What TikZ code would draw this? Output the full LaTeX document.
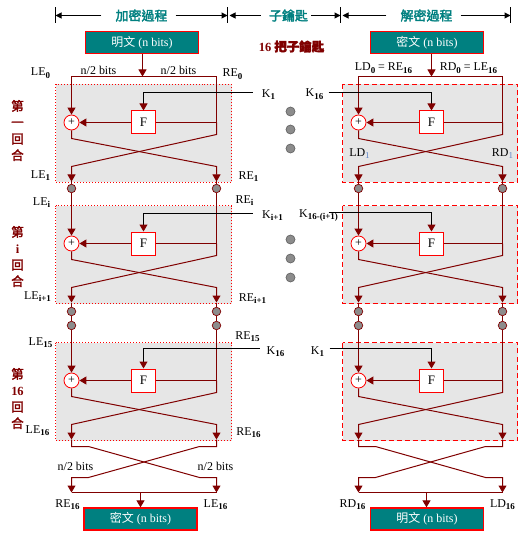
\documentclass[tikz,border=0pt]{standalone}
\usepackage{fontspec}
\setmainfont{Liberation Serif}
\newfontfamily\cjk{Noto Sans CJK TC}
\newfontfamily\cjkb{Noto Sans CJK TC}[FakeBold=2.5]
\usetikzlibrary{arrows.meta}
\definecolor{dred}{HTML}{800000}
\definecolor{tealc}{HTML}{008080}
\definecolor{boxgray}{HTML}{E6E6E6}
\definecolor{dotgray}{HTML}{8C8C8C}
\definecolor{subblue}{HTML}{5A82C8}
\newcommand\sbx[1]{\raisebox{-0.5ex}{\fontsize{9}{9}\selectfont\bfseries #1}}
\newcommand\sbb[1]{\raisebox{-0.5ex}{\fontsize{9}{9}\selectfont\color{subblue}#1}}
\tikzset{
  dl/.style={draw=dred, line width=1bp},
  arr/.style={dl, -{Triangle[width=8bp,length=7bp]}},
  karr/.style={draw=black, line width=1bp, -{Triangle[width=8bp,length=7bp,color=dred]}},
  fbox/.style={draw=red, fill=white, line width=1bp, minimum width=24bp, minimum height=23bp, inner sep=0pt, font=\fontsize{13}{13}\selectfont},
  xorn/.style={circle, draw=red, fill=white, line width=0.8bp, minimum size=15bp, inner sep=0pt, font=\fontsize{12}{12}\selectfont},
  dotn/.style={circle, draw=dred, fill=dotgray, line width=0.7bp, minimum size=8.5bp, inner sep=0pt},
  mdot/.style={circle, draw=black!60, fill=dotgray, line width=0.7bp, minimum size=9bp, inner sep=0pt},
  lab/.style={font=\fontsize{12}{12}\selectfont, inner sep=0pt},
  tealbox/.style={draw=red, fill=tealc, text=white, minimum width=113bp, minimum height=22bp, inner sep=0pt, line width=1.3bp, font=\fontsize{12}{12}\selectfont},
  hdr/.style={text=tealc, font=\cjkb\fontsize{13}{13}\selectfont, inner sep=0pt},
  rlab/.style={text=dred, font=\cjkb\fontsize{12.5}{16.5}\selectfont, align=center, inner sep=0pt},
  harr/.style={draw=black, line width=1bp, -{Triangle[width=6bp,length=6bp]}},
}
% #1 prefix, #2 xl, #3 xr, #4 xF, #5 top, #6 border style
\newcommand\feistel[6]{%
  \path[fill=boxgray, draw=red, line width=1bp, #6] ({#2-16},#5) rectangle ({#3+15},{#5+98});
  \node[xorn] (#1x) at (#2,{#5+38}) {+};
  \node[fbox] (#1F) at (#4,{#5+38}) {F};
  \coordinate (#1j) at (#3,{#5+38});
  \coordinate (#1bl) at (#2,{#5+97});
  \coordinate (#1br) at (#3,{#5+97});
  \draw[dl] (#1j) -- (#1F.east);
  \draw[arr] (#1F.west) -- (#1x.east);
  \draw[arr] (#1x.south) -- (#2,{#5+54}) -- (#3,{#5+82}) -- (#1br);
  \draw[arr] (#1j) -- (#3,{#5+50}) -- (#2,{#5+82}) -- (#1bl);
}
\begin{document}
\begin{tikzpicture}[x=1bp,y=-1bp]
\path[fill=white] (0,0) rectangle (528,533);
\useasboundingbox (0,0) rectangle (528,533);
\begin{scope}[shift={(0.5,0.5)}]
% header
\foreach \xx in {55,227,340,510} \draw[line width=1bp] (\xx,7) -- (\xx,23);
\coordinate (t1) at (55,15);
\coordinate (t2) at (227,15);
\coordinate (t3) at (340,15);
\coordinate (t4) at (510,15);
\node[hdr] (h1) at (141,15) {加密過程};
\node[hdr] (h2) at (288,15) {子鑰匙};
\node[hdr] (h3) at (426,15) {解密過程};
\draw[harr] ([xshift=-14bp]h1.west) -- (t1);
\draw[harr] ([xshift=8bp]h1.east) -- (t2);
\draw[harr] ([xshift=-8bp]h2.west) -- ([xshift=2bp]t2);
\draw[harr] ([xshift=3bp]h2.east) -- (t3);
\draw[harr] ([xshift=-14bp]h3.west) -- ([xshift=2bp]t3);
\draw[harr] ([xshift=8bp]h3.east) -- (t4);

% top boxes
\node[tealbox] (pt) at (141.5,42) {{\cjk 明文} (n bits)};
\node[tealbox] (ct) at (426.5,42) {{\cjk 密文} (n bits)};
\node[text=dred, font=\bfseries\fontsize{12.5}{12.5}\selectfont, inner sep=0pt] (sk) at (291,46) {16 {\cjkb 把子鑰匙}};

% rounds
\feistel{e1}{71}{216}{143}{84}{dotted}
\feistel{ei}{71}{216}{143}{205}{dotted}
\feistel{e16}{71}{216}{143}{342}{dotted}
\feistel{d1}{358}{502}{431}{84}{dash pattern=on 5bp off 3bp}
\feistel{di}{358}{502}{431}{205}{dash pattern=on 5bp off 3bp}
\feistel{d16}{358}{502}{431}{342}{dash pattern=on 5bp off 3bp}

% split lines
\coordinate (sL) at (142,76);
\coordinate (sLl) at (71,76);
\coordinate (sLr) at (216,76);
\coordinate (sR) at (431,76);
\coordinate (sRl) at (358,76);
\coordinate (sRr) at (502,76);
\draw[arr] (sL |- pt.south) -- (sL);
\draw[arr] (sR |- ct.south) -- (sR);
\draw[dl] (sLl) -- (sLr);
\draw[dl] (sRl) -- (sRr);
\draw[arr] (sLl) -- (e1x.north);
\draw[dl] (sLr) -- (e1j);
\draw[arr] (sRl) -- (d1x.north);
\draw[dl] (sRr) -- (d1j);

% dots between rounds
\foreach \nm/\xx in {eL/71, eR/216, dL/358, dR/502}{
  \node[dotn] (\nm a) at (\xx,188) {};
  \node[dotn] (\nm b) at (\xx,311) {};
  \node[dotn] (\nm c) at (\xx,325) {};
}
\draw[dl] (e1bl) -- (eLa.north);
\draw[arr] (eLa.south) -- (eix.north);
\draw[dl] (e1br) -- (eRa.north);
\draw[dl] (eRa.south) -- (eij);
\draw[dl] (eibl) -- (eLb.north);
\draw[dl] (eLb.south) -- (eLc.north);
\draw[arr] (eLc.south) -- (e16x.north);
\draw[dl] (eibr) -- (eRb.north);
\draw[dl] (eRb.south) -- (eRc.north);
\draw[dl] (eRc.south) -- (e16j);

\draw[dl] (d1bl) -- (dLa.north);
\draw[arr] (dLa.south) -- (dix.north);
\draw[dl] (d1br) -- (dRa.north);
\draw[dl] (dRa.south) -- (dij);
\draw[dl] (dibl) -- (dLb.north);
\draw[dl] (dLb.south) -- (dLc.north);
\draw[arr] (dLc.south) -- (d16x.north);
\draw[dl] (dibr) -- (dRb.north);
\draw[dl] (dRb.south) -- (dRc.north);
\draw[dl] (dRc.south) -- (d16j);

% final swap
\coordinate (ebL) at (71,492);
\coordinate (ebR) at (216,492);
\coordinate (ebM) at (140,492);
\draw[arr] (e16bl) -- (71,446) -- (88,446) -- (199,477) -- (216,477) -- (ebR);
\draw[arr] (e16br) -- (216,446) -- (199,446) -- (88,477) -- (71,477) -- (ebL);
\draw[dl] (ebL) -- (ebR);
\coordinate (dbL) at (358,492);
\coordinate (dbR) at (502,492);
\coordinate (dbM) at (426,492);
\draw[arr] (d16bl) -- (358,446) -- (375,446) -- (485,477) -- (502,477) -- (dbR);
\draw[arr] (d16br) -- (502,446) -- (485,446) -- (375,477) -- (358,477) -- (dbL);
\draw[dl] (dbL) -- (dbR);
\node[tealbox] (cb) at (140,518.5) {{\cjk 密文} (n bits)};
\node[tealbox] (pb) at (426.5,518.5) {{\cjk 明文} (n bits)};
\draw[arr] (ebM) -- (ebM |- cb.north);
\draw[arr] (dbM) -- (dbM |- pb.north);

% key lines
\coordinate (k1e) at (252,92);
\coordinate (k2e) at (252,213);
\coordinate (k3e) at (259,348);
\coordinate (k4s) at (328,92);
\coordinate (k5s) at (328,212);
\coordinate (k6s) at (329,348);
\draw[karr] (k1e) -| (e1F.north);
\draw[karr] (k2e) -| (eiF.north);
\draw[karr] (k3e) -| (e16F.north);
\draw[karr] (k4s) -| (d1F.north);
\draw[karr] (k5s) -| (diF.north);
\draw[karr] (k6s) -| (d16F.north);
\node[lab] (K1) at (268,94) {K\sbx{1}};
\node[lab] (K16) at (314,94) {K\sbx{16}};
\node[lab] (Ki1) at (272,215) {K\sbx{i+1}};
\node[lab] (K16i) at (318,215) {K\sbx{16-(i+1)}};
\node[lab] (K16b) at (275,351) {K\sbx{16}};
\node[lab] (K1b) at (317,351) {K\sbx{1}};

% middle dots
\foreach \yy [count=\n] in {111,129,148,239,258,277} \node[mdot] (m\n) at (290,\yy) {};

% labels left
\node[lab] (lLE0) at (40,73) {LE\sbx{0}};
\node[lab] (lRE0) at (232,74) {RE\sbx{0}};
\node[lab] (lLE1) at (40,175) {LE\sbx{1}};
\node[lab] (lRE1) at (248,176) {RE\sbx{1}};
\node[lab] (lLEi) at (41,202) {LE\sbx{i}};
\node[lab] (lREi) at (244,200) {RE\sbx{i}};
\node[lab] (lLEi1) at (37,296) {LE\sbx{i+1}};
\node[lab] (lREi1) at (252,298) {RE\sbx{i+1}};
\node[lab] (lLE15) at (40,342) {LE\sbx{15}};
\node[lab] (lRE15) at (247,336) {RE\sbx{15}};
\node[lab] (lLE16) at (37,430) {LE\sbx{16}};
\node[lab] (lRE16) at (248,432) {RE\sbx{16}};
\node[lab] (nb1) at (98,70) {n/2 bits};
\node[lab] (nb2) at (178,70) {n/2 bits};
\node[lab] (nb3) at (75,466) {n/2 bits};
\node[lab] (nb4) at (215,466) {n/2 bits};
\node[lab] (bRE16) at (67,504) {RE\sbx{16}};
\node[lab] (bLE16) at (215,504) {LE\sbx{16}};

% labels right
\node[lab] (rLD0) at (383,68) {LD\sbx{0} = RE\sbx{16}};
\node[lab] (rRD0) at (468,68) {RD\sbx{0} = LE\sbx{16}};
\node[lab] (rLD1) at (359,153) {LD\sbb{1}};
\node[lab] (rRD1) at (502,153) {RD\sbb{1}};
\node[lab] (bRD16) at (352,504) {RD\sbx{16}};
\node[lab] (bLD16) at (502,504) {LD\sbx{16}};

% round labels
\node[rlab] (rd1) at (17,130) {第\\一\\回\\合};
\node[rlab] (rdi) at (17,256) {第\\{\rmfamily\bfseries i}\\回\\合};
\node[rlab] (rd16) at (17,398) {第\\{\rmfamily\bfseries 16}\\回\\合};
\end{scope}
\end{tikzpicture}
\end{document}
